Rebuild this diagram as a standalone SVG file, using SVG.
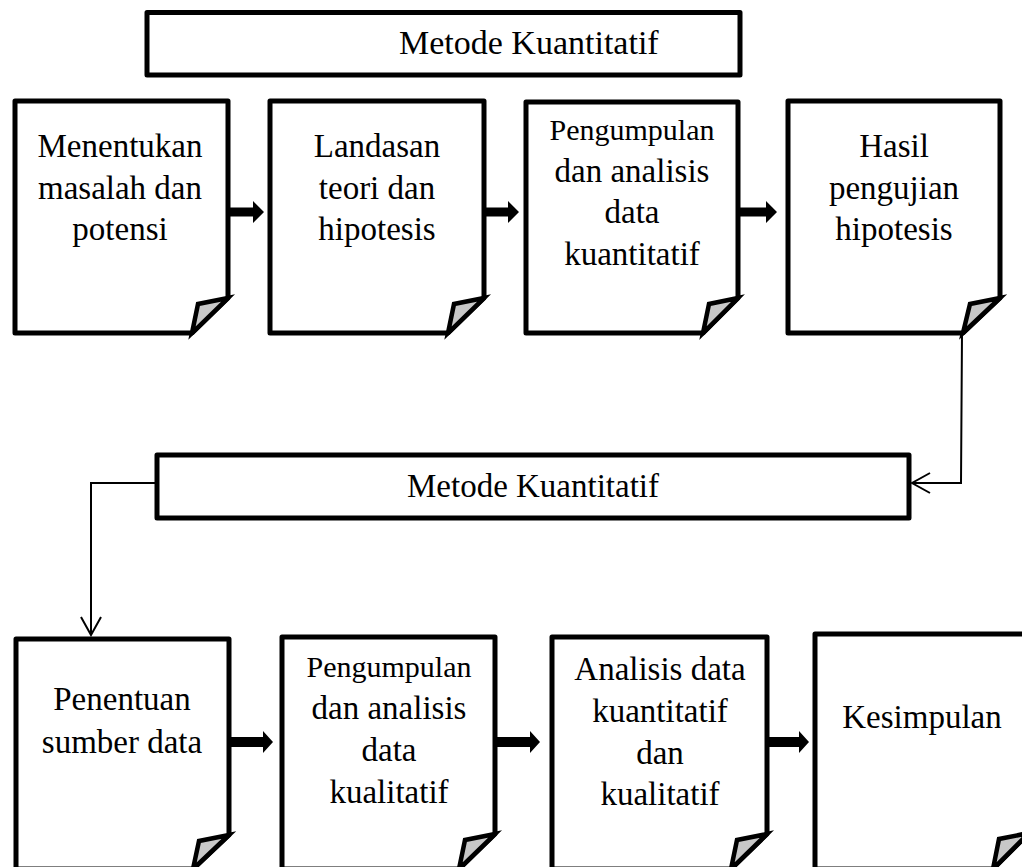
<svg xmlns="http://www.w3.org/2000/svg" width="1022" height="867" viewBox="0 0 1022 867">
<style>
.box{fill:#fff;stroke:#000;stroke-width:5;stroke-linejoin:round}
.fold{fill:#c8c8c8;stroke:#000;stroke-width:4.5;stroke-linejoin:miter}
.t{font-family:"Liberation Serif","Times New Roman",serif;font-size:33px;fill:#000;text-anchor:middle}
.s{font-size:30px}
.ta{font-family:"Liberation Serif","Times New Roman",serif;font-size:34px;fill:#000}
.thick{fill:#000;stroke:none}
.thin{fill:none;stroke:#000;stroke-width:2}
</style>
<defs>
<marker id="open" viewBox="-20 -12 22 24" refX="0" refY="0" markerWidth="22" markerHeight="24" markerUnits="userSpaceOnUse" orient="auto">
<path d="M-18,-10 L0,0 L-18,10" fill="none" stroke="#000" stroke-width="2"/>
</marker>
</defs>

<g id="title1">
<rect class="box" x="147" y="12.5" width="593" height="62.5"/>
<text class="ta" x="399" y="54">Metode Kuantitatif</text>
</g>

<g id="n1">
<path class="box" d="M15,101 H228 V298 L192,333 H15 Z"/>
<path class="fold" d="M228,298 L198,304 L192,333 Z"/>
<text class="t" x="120" y="157">Menentukan</text>
<text class="t" x="120" y="199">masalah dan</text>
<text class="t" x="120" y="240">potensi</text>
</g>

<g id="n2">
<path class="box" d="M270,101 H484 V298 L448,333 H270 Z"/>
<path class="fold" d="M484,298 L454,304 L448,333 Z"/>
<text class="t" x="377" y="157">Landasan</text>
<text class="t" x="377" y="199">teori dan</text>
<text class="t" x="377" y="240">hipotesis</text>
</g>

<g id="n3">
<path class="box" d="M526,102 H738 V298 L703,333 H526 Z"/>
<path class="fold" d="M738,298 L709,304 L703,333 Z"/>
<text class="t s" x="632" y="140">Pengumpulan</text>
<text class="t" x="632" y="182">dan analisis</text>
<text class="t" x="632" y="223">data</text>
<text class="t" x="632" y="265">kuantitatif</text>
</g>

<g id="n4">
<path class="box" d="M788,101 H1000 V298 L963,333 H788 Z"/>
<path class="fold" d="M1000,298 L970,304 L963,333 Z"/>
<text class="t" x="894" y="157">Hasil</text>
<text class="t" x="894" y="199">pengujian</text>
<text class="t" x="894" y="240">hipotesis</text>
</g>

<g id="title2">
<rect class="box" x="157" y="455" width="752" height="63"/>
<text class="t" x="533" y="497">Metode Kuantitatif</text>
</g>

<g id="n5">
<path class="box" d="M16,639 H229 V835 L193,869 H16 Z"/>
<path class="fold" d="M229,835 L199,841 L193,869 Z"/>
<text class="t" x="122" y="710">Penentuan</text>
<text class="t" x="122" y="753">sumber data</text>
</g>

<g id="n6">
<path class="box" d="M282,637 H495 V834 L459,869 H282 Z"/>
<path class="fold" d="M495,834 L465,840 L459,869 Z"/>
<text class="t s" x="389" y="677">Pengumpulan</text>
<text class="t" x="389" y="719">dan analisis</text>
<text class="t" x="389" y="761">data</text>
<text class="t" x="389" y="803">kualitatif</text>
</g>

<g id="n7">
<path class="box" d="M552,637 H767 V834 L731,869 H552 Z"/>
<path class="fold" d="M767,834 L737,840 L731,869 Z"/>
<text class="t" x="660" y="680">Analisis data</text>
<text class="t" x="660" y="722">kuantitatif</text>
<text class="t" x="660" y="764">dan</text>
<text class="t" x="660" y="805">kualitatif</text>
</g>

<g id="n8">
<path class="box" d="M815,634 H1029 V833 L993,869 H815 Z"/>
<path class="fold" d="M1029,833 L999,839 L993,869 Z"/>
<text class="t" x="922" y="728">Kesimpulan</text>
</g>

<g id="connectors">
<polygon class="thick" points="228,207.5 253,207.5 253,201 264,212 253,223 253,216.5 228,216.5"/>
<polygon class="thick" points="484,207.5 508,207.5 508,201 519,212 508,223 508,216.5 484,216.5"/>
<polygon class="thick" points="738,207.5 766,207.5 766,201 777,212 766,223 766,216.5 738,216.5"/>
<polygon class="thick" points="229,737 263,737 263,731 273,742 263,753 263,747 229,747"/>
<polygon class="thick" points="495,737 530,737 530,731 540,742 530,753 530,747 495,747"/>
<polygon class="thick" points="767,737 799,737 799,731 809,742 799,753 799,747 767,747"/>
<polyline class="thin" points="962,333 961,483 912,483" marker-end="url(#open)"/>
<polyline class="thin" points="157,483 91,483 91,635" marker-end="url(#open)"/>
</g>
</svg>
